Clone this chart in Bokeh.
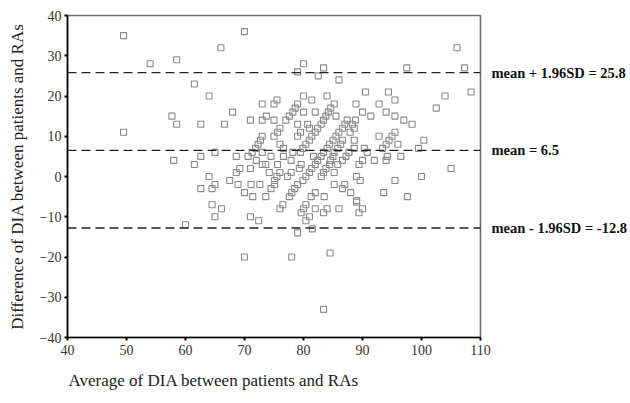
from bokeh.plotting import figure
from bokeh.models import Span, ColumnDataSource, FixedTicker, Range1d, LinearAxis, Title
from bokeh.embed import file_html
from bokeh.resources import INLINE

# (average, difference) pairs
avg_vals = [
    49.5, 49.5, 54, 58.5, 57.7, 58.5, 58, 61.5, 64, 62.6, 61.5, 62.6, 65, 64, 62.6, 65, 64.5, 66, 60, 64.5,
    65, 66.1, 70, 80, 79, 83.4, 82.5, 86, 97.5, 68, 66.6,
    73, 75, 75.5, 71, 73, 73.7, 75, 77, 77.6, 76, 75.6, 75, 73, 72.7, 72.3, 71.9, 71.3, 70.6, 68.6,
    76, 76.6, 74.5, 76.6, 73, 68.6, 69.2, 71, 73, 73.6, 74.2, 75.6, 76, 75.5, 75.1, 72, 67.5, 68.9, 71.1, 72.6,
    70, 71.4, 73.6, 74.5, 75.1, 71, 72.4, 76.5, 76, 70, 78, 77.6,
    84.5, 83.4, 79, 81.5, 79.6, 80, 80.4, 80.4, 81, 82, 83.4, 84, 86, 89, 90, 89.4,
    79, 78.5, 78, 81.3, 82, 83.5, 85.2, 86.6, 87, 88, 89.6, 89, 93.6,
    97.6,
    94.4, 95.5, 92.8, 94, 95.5, 97, 98.4, 104, 102.5, 108.4, 95.5, 95, 94.5, 94, 93.4, 92.8, 96, 100.4, 99.5,
    94.2, 94, 96.5, 105, 100, 95.5,
    106, 107.3,
    90.5, 80, 81.4, 84, 85.2, 79, 78.6, 78.2, 80, 82, 84.6, 84.2, 83.8, 83.4, 83, 82.4, 82, 81.4, 81, 80.4,
    79.9, 79.5, 79, 80.7, 81, 79, 79.5, 85.5, 87.4, 87, 86.6, 86, 85.5, 85, 84.4, 84, 83.4, 83, 82.4, 82,
    81.4, 81, 80.4, 79.9, 88.8, 88.3, 88.6, 86.6, 86.3, 85.8, 85.2, 85, 84.6, 84.4, 83.8, 83.4, 83, 85.2,
    85.8, 86.6, 87.2, 87.7, 88.6, 90.3, 90.8, 92, 90, 89.4, 89, 88.9, 90, 91.4, 77.9, 78.2, 79.6, 79.3,
    77.9, 77.3, 81.7, 88.6, 87.9,
]
diff_vals = [
    35, 11, 28, 29, 15, 13, 4, 23, 20, 13, 3, 5, 6, 0, -3, -2, -3, 32, -12, -7,
    -10, -8, 36, 28, 26, 27, 25, 24, 27, 16, 13,
    18, 18, 19, 14, 14, 15, 14, 14, 15, 12, 11, 10, 10, 9, 8, 7, 6, 5, 5,
    8, 7, 5, 5, 6, 1, 2, 2, 3, 3, 1, 3, 1, 0, -1, 4, -1, -2, -2, -2,
    -4, -5, -5, -3, -2, -10, -11, -7, -8, -20, -20, -5,
    -19, -33, -14, -13, -9, -8, -7, -11, -10, -8, -9, -8, -8, -6.4, -8, -9,
    -2, -3, -4, -5, -4, -5, -2, -3, -2, -4, -1, -6, -4,
    -5,
    21, 19, 18, 16, 15, 14, 13, 20, 17, 21, 11, 10, 9, 8, 7, 10, 8, 9, 7,
    5, 4, 5, 2, 0, -1,
    32, 27,
    21, 20, 19, 20, 18, 18, 17, 16, 16, 16, 17, 16, 15, 14, 13, 12, 11, 10, 9, 8,
    7, 6, 13, 13, 12, 10, 11, 15, 14, 13, 12, 11, 10, 9, 8, 7, 6, 5, 4, 3,
    2, 1, 0, -1, 14, 13, 12, 9, 8, 7, 6, 5, 4, 3, 2, 1, 0, 1,
    3, 4, 5, 6, 7, 7, 6, 4, 4, 3, 0, 18, 16, 15, 4, 6, 3, 2,
    1, 0, 5, 9, 11,
]

mean_diff = 6.5
upper_loa = 25.8
lower_loa = -12.8
x_ticks = [40, 50, 60, 70, 80, 90, 100, 110]
y_ticks = [-40, -30, -20, -10, 0, 10, 20, 30, 40]
x_label = "Average of DIA between patients and RAs"
y_label = "Difference of DIA between patients and RAs"
line_labels = ["mean + 1.96SD = 25.8", "mean = 6.5", "mean - 1.96SD = -12.8"]

FONT = "Liberation Serif"

p = figure(width=630, height=403, output_backend="svg", toolbar_location=None,
           x_range=Range1d(40, 110), y_range=Range1d(-40, 40),
           min_border_left=67, min_border_right=148, min_border_top=15, min_border_bottom=66)
p.background_fill_color = "white"
p.border_fill_color = "white"
p.outline_line_color = "#6e6e6e"
p.outline_line_width = 1.6
p.grid.visible = False

src = ColumnDataSource(dict(x=avg_vals, y=diff_vals))
p.scatter("x", "y", source=src, marker="square", size=6, fill_color=None,
          line_color="#8a8a8a", line_width=1.1)

line_vals = [upper_loa, mean_diff, lower_loa]
for v in line_vals:
    p.add_layout(Span(location=v, dimension="width", line_color="#222222",
                      line_width=1.4, line_dash="9 5"))

# right-hand labels for the three reference lines, as an unlined axis
overrides = {}
for v, t in zip(line_vals, line_labels):
    overrides[v] = t
    overrides[str(v)] = t
rax = LinearAxis(ticker=FixedTicker(ticks=line_vals), major_label_overrides=overrides)
rax.axis_line_color = None
rax.major_tick_line_color = None
rax.minor_tick_line_color = None
rax.major_label_standoff = 5
rax.major_label_text_font = FONT
rax.major_label_text_font_size = "14.5px"
rax.major_label_text_font_style = "bold"
rax.major_label_text_color = "#111111"
p.add_layout(rax, "right")

for ax in [p.xaxis[0], p.yaxis[0]]:
    ax.axis_line_color = "black"
    ax.axis_line_width = 1.6
    ax.major_tick_line_color = "black"
    ax.major_tick_line_width = 2
    ax.major_tick_out = 3
    ax.major_tick_in = 0
    ax.minor_tick_line_color = None
    ax.major_label_text_font = FONT
    ax.major_label_text_font_size = "14px"
    ax.major_label_text_color = "#333333"

xa = p.xaxis[0]
xa.ticker = FixedTicker(ticks=x_ticks)
xa.major_label_standoff = 4

ya = p.yaxis[0]
ya.ticker = FixedTicker(ticks=y_ticks)
ya.major_label_standoff = 3
ya.axis_label = y_label
ya.axis_label_text_font = FONT
ya.axis_label_text_font_size = "17px"
ya.axis_label_text_font_style = "normal"
ya.axis_label_text_color = "#222222"
ya.axis_label_standoff = 10

p.add_layout(Title(text=x_label, align="left", offset=1, standoff=22,
                   text_font=FONT, text_font_size="17px", text_font_style="normal",
                   text_color="#222222"), "below")

open("out.html", "w").write(file_html(p, INLINE))
